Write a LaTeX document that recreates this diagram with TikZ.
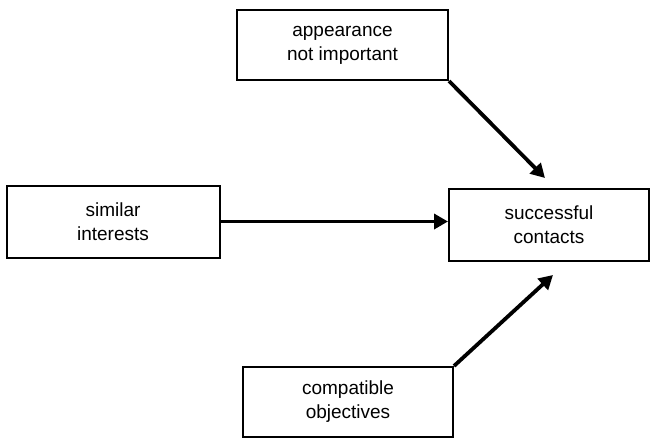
\documentclass[tikz,border=0pt]{standalone}
\usepackage{fontspec}
\setmainfont{Liberation Sans}
\usetikzlibrary{arrows.meta,calc}
\begin{document}
\begin{tikzpicture}[x=1pt,y=-1pt,
  box/.style={draw=black,line width=2pt,fill=white,align=center,inner sep=0pt,
    font=\fontsize{19}{24}\selectfont},
  conn/.style={line width=3.8pt,-{Triangle[length=14pt,width=15pt]}}]
\useasboundingbox (0,0) rectangle (656,442);
\node[box,minimum width=211pt,minimum height=70pt] (app) at (342.5,45) {appearance\\not important};
\node[box,minimum width=213pt,minimum height=72pt] (sim) at (113,221.5) {similar\\interests};
\node[box,minimum width=200pt,minimum height=72pt] (suc) at (549,225) {successful\\contacts};
\node[box,minimum width=210pt,minimum height=70pt] (comp) at (348,402) {compatible\\objectives};
\coordinate (t1) at (545,178);
\coordinate (t3) at (553,275);
\draw[conn] (app.south east) -- (t1);
\draw[conn] (sim.east) -- (sim.east -| suc.west);
\draw[conn] (comp.north east) -- (t3);
\end{tikzpicture}
\end{document}
